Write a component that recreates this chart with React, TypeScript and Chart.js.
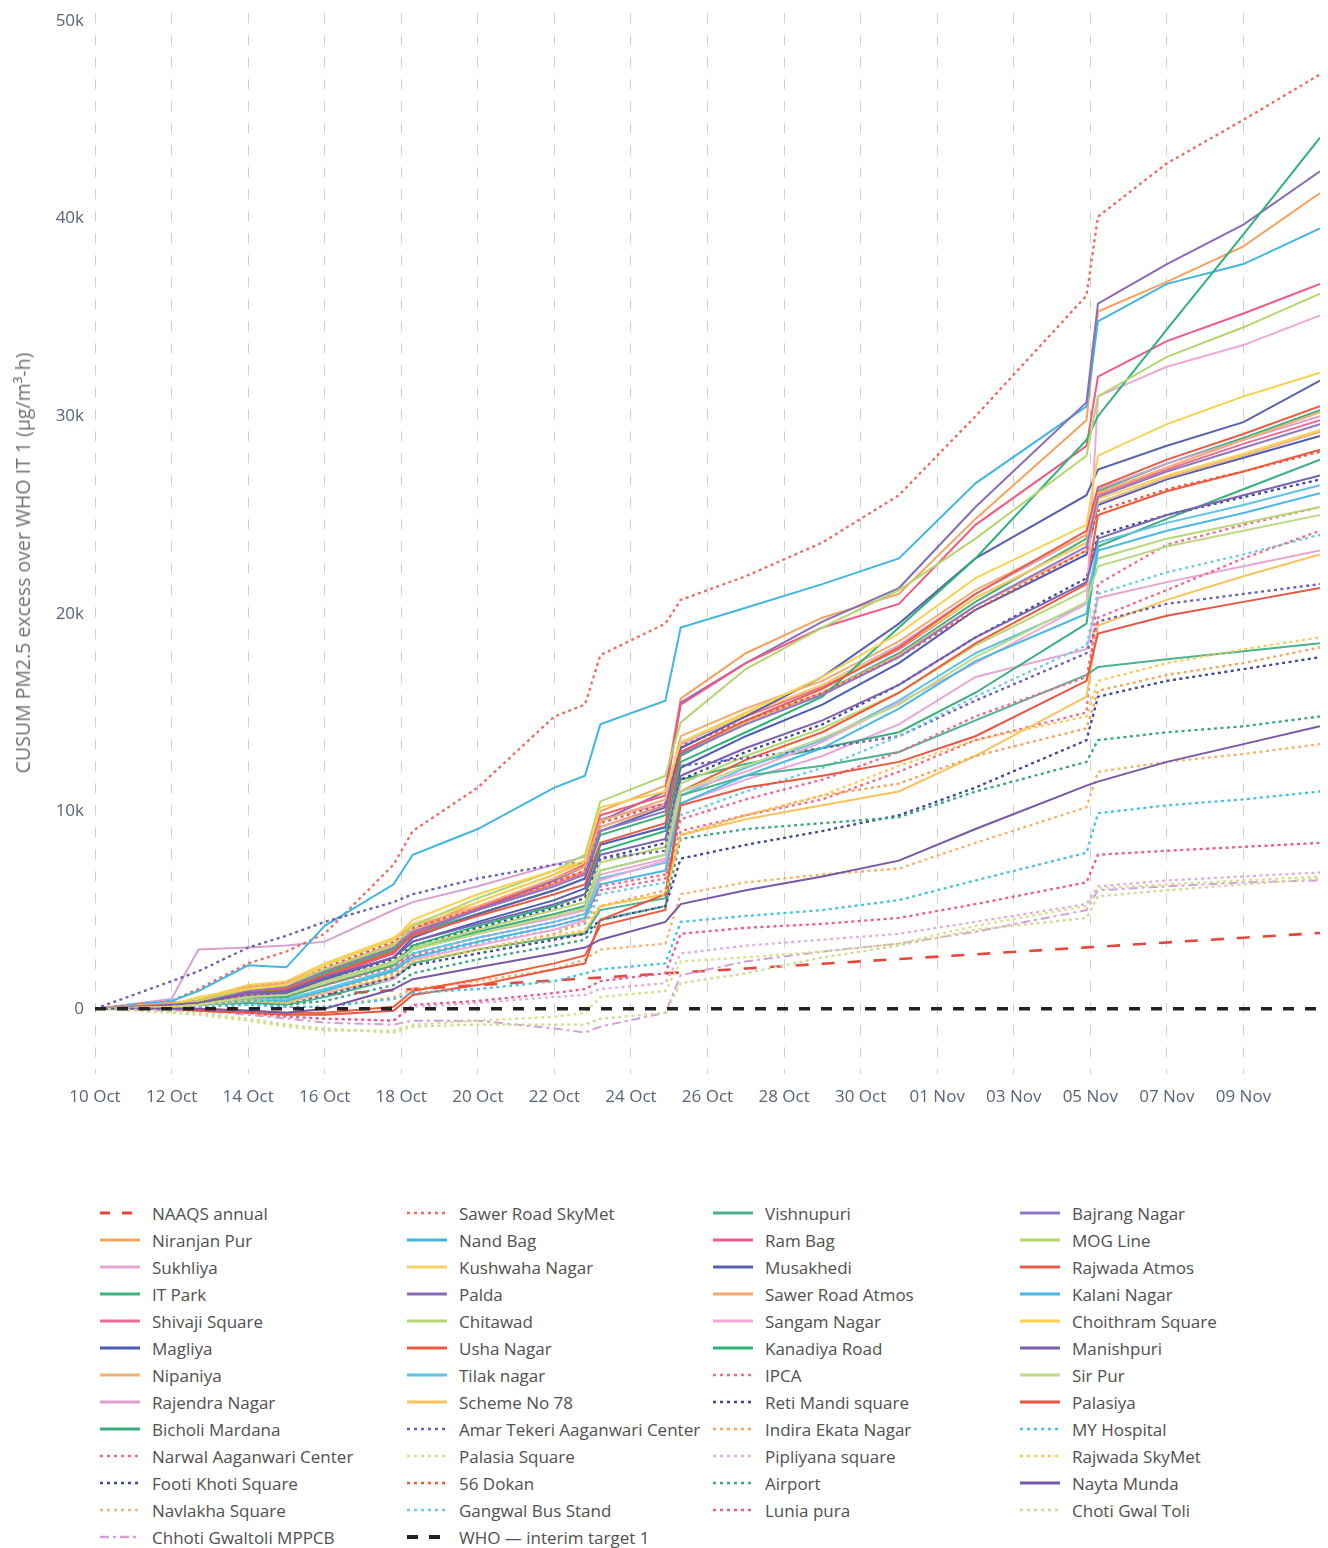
import React, { useEffect, useRef } from "react";
import { Chart, registerables } from "chart.js";

Chart.register(...registerables);

// ---- time axis (days since 10 Oct 00:00) and tick labels ----
const DAYS = [0, 2, 2.7, 4, 5, 6, 7.8, 8.3, 10, 12, 12.8, 13.2, 14.9, 15.3, 17, 19, 21, 23, 25.9, 26.2, 28, 30, 32];
const X_TICK_LABELS = ["10 Oct", "12 Oct", "14 Oct", "16 Oct", "18 Oct", "20 Oct", "22 Oct", "24 Oct", "26 Oct", "28 Oct", "30 Oct", "01 Nov", "03 Nov", "05 Nov", "07 Nov", "09 Nov"];
const Y_TICK_VALUES = [0, 10, 20, 30, 40, 50]; // thousands
const Y_TITLE = "CUSUM PM2.5 excess over WHO IT 1 (µg/m³-h)";

// ---- series values (thousands of µg/m³·h), one value per DAYS entry ----
const NAAQS_ANNUAL = [0, 0.24, 0.32, 0.48, 0.6, 0.72, 0.94, 1.0, 1.2, 1.44, 1.54, 1.58, 1.79, 1.84, 2.04, 2.28, 2.52, 2.76, 3.11, 3.14, 3.36, 3.6, 3.84];
const NIRANJAN_PUR = [0, 0.2, 0.3, 0.9, 1.0, 1.8, 3.0, 4.0, 5.4, 6.8, 7.5, 10.0, 11.3, 15.7, 18.0, 19.8, 21.0, 24.8, 29.8, 35.3, 36.8, 38.6, 41.3];
const SUKHLIYA = [0, 0.2, 0.3, 0.7, 0.8, 1.4, 2.3, 3.0, 3.8, 4.6, 5.0, 6.8, 7.6, 10.4, 11.6, 12.8, 14.4, 16.8, 18.2, 20.8, 21.6, 22.4, 23.2];
const IT_PARK = [0, 0.2, 0.3, 0.9, 1.1, 1.8, 3.0, 3.8, 4.8, 6.0, 6.6, 8.8, 9.8, 12.8, 14.5, 16.0, 18.0, 20.6, 23.8, 26.2, 27.6, 28.9, 30.3];
const SHIVAJI_SQUARE = [0, 0.3, 0.4, 1.0, 1.2, 2.0, 3.2, 4.0, 5.0, 6.3, 6.9, 9.2, 10.3, 13.2, 14.8, 16.3, 18.2, 20.8, 23.6, 26.0, 27.3, 28.6, 29.8];
const MAGLIYA = [0, 0.1, 0.2, 0.7, 0.8, 1.5, 2.6, 3.4, 4.4, 5.5, 6.1, 8.3, 9.2, 12.2, 13.8, 15.4, 17.5, 20.2, 23.0, 25.5, 26.8, 27.9, 29.0];
const NIPANIYA = [0, 0.2, 0.4, 1.0, 1.2, 2.0, 3.3, 4.0, 5.1, 6.4, 7.0, 9.2, 10.2, 13.0, 14.5, 16.0, 17.9, 20.4, 23.2, 25.6, 26.9, 28.0, 29.2];
const RAJENDRA_NAGAR = [0, 0.5, 3.0, 3.1, 3.2, 3.4, 5.0, 5.4, 6.2, 7.3, 7.7, 9.6, 10.4, 13.4, 14.9, 16.4, 18.4, 21.0, 24.0, 26.3, 27.6, 28.8, 30.0];
const BICHOLI_MARDANA = [0, 0.1, 0.2, 0.6, 0.6, 1.2, 2.2, 3.0, 3.9, 4.8, 5.2, 7.0, 7.8, 11.6, 12.4, 13.2, 14.0, 16.0, 19.5, 23.4, 24.8, 26.3, 27.8];
const NARWAL_AAGANWARI = [0, 0.3, 0.4, 0.9, 0.8, 1.3, 2.2, 2.8, 3.6, 4.4, 4.8, 6.2, 6.8, 9.0, 9.8, 10.6, 12.0, 13.6, 15.0, 21.5, 23.5, 24.5, 25.4];
const FOOTI_KHOTI = [0, 0.2, 0.3, 0.8, 0.9, 1.5, 2.5, 3.2, 4.1, 5.1, 5.6, 7.6, 8.4, 11.6, 13.0, 14.4, 16.4, 18.8, 21.8, 24.0, 25.0, 25.9, 26.8];
const NAVLAKHA = [0, 0.1, 0.1, 0.2, 0.1, 0.1, 0.6, 1.0, 1.4, 2.0, 2.5, 3.0, 3.3, 5.8, 6.4, 6.8, 7.1, 8.4, 10.2, 12.0, 12.5, 12.9, 13.4];
const CHHOTI_GWALTOLI_MPPCB = [0, -0.1, -0.1, -0.3, -0.5, -0.7, -0.8, -0.6, -0.6, -1.0, -1.2, -0.9, -0.2, 1.7, 2.4, 2.9, 3.3, 3.9, 5.0, 6.0, 6.2, 6.4, 6.5];
const SAWER_ROAD_SKYMET = [0, 0.4, 1.0, 2.3, 2.9, 3.8, 7.3, 9.0, 11.2, 14.8, 15.4, 17.9, 19.5, 20.7, 21.9, 23.6, 26.0, 30.0, 36.1, 40.1, 42.8, 45.0, 47.3];
const NAND_BAG = [0, 0.4, 0.9, 2.2, 2.1, 4.2, 6.3, 7.8, 9.1, 11.2, 11.8, 14.4, 15.6, 19.3, 20.3, 21.5, 22.8, 26.6, 30.5, 34.8, 36.7, 37.7, 39.5];
const KUSHWAHA_NAGAR = [0, 0.3, 0.5, 1.2, 1.4, 2.3, 3.6, 4.3, 5.4, 6.8, 7.4, 9.8, 10.8, 13.5, 14.9, 16.4, 18.3, 20.8, 23.6, 25.8, 27.0, 28.1, 29.3];
const PALDA = [0, 0.2, 0.4, 0.8, 0.9, 1.6, 2.8, 3.8, 5.0, 6.5, 7.2, 9.5, 11.0, 15.5, 17.5, 19.6, 21.3, 25.4, 30.7, 35.7, 37.7, 39.7, 42.4];
const CHITAWAD = [0, 0.2, 0.3, 0.7, 0.8, 1.4, 2.4, 3.1, 4.0, 5.0, 5.4, 7.4, 8.2, 11.4, 12.8, 14.2, 16.0, 18.4, 21.2, 22.8, 23.8, 24.6, 25.4];
const USHA_NAGAR = [0, 0, 0, -0.1, -0.2, -0.2, 0.1, 0.9, 1.5, 2.3, 2.7, 4.2, 5.0, 11.0, 12.6, 14.0, 16.0, 18.5, 21.5, 25.0, 26.2, 27.2, 28.3];
const TILAK_NAGAR = [0, 0.1, 0.2, 0.5, 0.5, 1.0, 2.0, 2.8, 3.6, 4.4, 4.8, 6.6, 7.4, 10.8, 12.2, 13.6, 15.6, 18.0, 20.5, 23.6, 24.6, 25.5, 26.5];
const SCHEME_NO_78 = [0, 0.1, 0.2, 0.4, 0.3, 0.8, 1.6, 2.3, 3.0, 3.6, 3.9, 5.2, 5.8, 8.8, 9.6, 10.3, 11.0, 12.8, 15.8, 19.4, 20.7, 21.9, 23.0];
const AMAR_TEKERI = [0, 1.4, 1.9, 3.1, 3.7, 4.4, 5.4, 5.8, 6.6, 7.3, 7.4, 7.6, 8.0, 12.3, 12.7, 13.2, 13.8, 15.6, 18.0, 19.6, 20.5, 21.0, 21.5];
const PALASIA_SQUARE = [0, -0.2, -0.3, -0.6, -0.9, -1.1, -1.1, -0.8, -0.6, -0.4, -0.2, 0.6, 0.9, 2.4, 2.6, 2.9, 3.3, 4.2, 5.2, 6.1, 6.3, 6.5, 6.7];
const DOKAN_56 = [0, 0.3, 0.4, 1.1, 1.3, 2.1, 3.4, 4.1, 5.1, 6.4, 7.0, 9.4, 10.4, 13.3, 14.6, 16.0, 17.8, 20.2, 23.2, 25.2, 26.3, 27.2, 28.2];
const GANGWAL_BUS_STAND = [0, 0.1, 0.2, 0.5, 0.5, 1.0, 1.9, 2.6, 3.3, 4.0, 4.3, 5.8, 6.4, 9.8, 11.0, 12.2, 13.8, 15.8, 18.4, 21.0, 22.1, 23.0, 24.0];
const WHO_IT1 = [0, 0, 0, 0, 0, 0, 0, 0, 0, 0, 0, 0, 0, 0, 0, 0, 0, 0, 0, 0, 0, 0, 0];
const VISHNUPURI = [0, 0.1, 0.2, 0.3, 0.2, 0.6, 1.5, 2.3, 3.0, 3.6, 3.8, 5.0, 5.6, 10.8, 11.8, 12.3, 13.0, 14.6, 16.9, 17.3, 17.7, 18.1, 18.5];
const RAM_BAG = [0, 0.2, 0.3, 0.8, 0.9, 1.6, 2.8, 3.8, 5.1, 6.6, 7.3, 9.8, 10.8, 15.4, 17.5, 19.3, 20.5, 24.5, 28.5, 32.0, 33.8, 35.2, 36.7];
const MUSAKHEDI = [0, 0.1, 0.3, 0.7, 0.8, 1.5, 2.6, 3.6, 4.8, 6.0, 6.6, 9.0, 10.2, 13.2, 14.8, 16.8, 19.5, 22.8, 26.0, 27.3, 28.5, 29.7, 31.8];
const SAWER_ROAD_ATMOS = [0, 0.3, 0.4, 1.1, 1.3, 2.2, 3.5, 4.2, 5.2, 6.6, 7.2, 9.5, 10.6, 13.8, 15.2, 16.6, 18.6, 21.2, 24.0, 26.1, 27.4, 28.8, 30.2];
const SANGAM_NAGAR = [0, 0.1, 0.2, 0.4, 0.4, 0.8, 1.5, 2.5, 3.2, 4.0, 4.5, 6.5, 7.5, 11.0, 12.0, 13.5, 15.5, 17.5, 20.5, 31.0, 32.5, 33.6, 35.1];
const KANADIYA_ROAD = [0, 0.1, 0.2, 0.6, 0.7, 1.2, 2.2, 3.2, 4.2, 5.2, 5.8, 8.0, 9.0, 12.5, 14.0, 15.8, 19.3, 22.8, 28.8, 30.0, 34.4, 39.2, 44.1];
const IPCA = [0, 0.2, 0.3, 0.7, 0.7, 1.2, 2.1, 2.7, 3.4, 4.2, 4.6, 6.0, 6.6, 9.6, 10.6, 11.6, 13.0, 14.8, 16.8, 19.8, 21.2, 22.8, 24.2];
const RETI_MANDI = [0, 0.1, 0.2, 0.4, 0.3, 0.7, 1.6, 2.2, 2.8, 3.5, 3.8, 4.5, 5.2, 7.6, 8.3, 9.0, 9.8, 11.2, 13.6, 15.8, 16.6, 17.2, 17.8];
const INDIRA_EKATA = [0, 0.1, 0.3, 0.5, 0.4, 0.8, 1.8, 2.4, 3.0, 3.8, 4.4, 5.2, 6.0, 8.8, 9.8, 10.8, 11.4, 12.8, 14.2, 16.1, 16.9, 17.5, 18.3];
const PIPLIYANA = [0, 0, -0.1, -0.2, -0.4, -0.5, -0.6, 0.1, 0.3, 0.6, 0.7, 1.0, 1.3, 2.8, 3.2, 3.5, 3.8, 4.4, 5.3, 6.2, 6.5, 6.7, 6.9];
const AIRPORT = [0, 0.1, 0.2, 0.3, 0.2, 0.4, 1.2, 1.8, 2.5, 3.2, 3.5, 4.5, 5.2, 8.6, 9.1, 9.4, 9.7, 11.0, 12.5, 13.6, 14.0, 14.3, 14.8];
const LUNIA_PURA = [0, 0, -0.1, -0.2, -0.4, -0.5, -0.6, 0.2, 0.4, 0.8, 1.0, 1.4, 1.8, 3.8, 4.1, 4.3, 4.6, 5.3, 6.4, 7.8, 8.0, 8.2, 8.4];
const BAJRANG_NAGAR = [0, 0.2, 0.3, 0.9, 1.1, 1.9, 3.1, 3.9, 5.0, 6.2, 6.8, 9.0, 10.0, 12.9, 14.4, 15.9, 17.8, 20.4, 23.4, 25.9, 27.2, 28.4, 29.6];
const MOG_LINE = [0, 0.2, 0.4, 1.0, 1.2, 2.0, 3.2, 4.2, 5.6, 7.0, 7.8, 10.5, 11.8, 14.5, 17.2, 19.3, 21.2, 23.8, 28.0, 31.0, 33.0, 34.5, 36.2];
const RAJWADA_ATMOS = [0, 0.2, 0.3, 0.8, 1.0, 1.7, 2.9, 3.7, 4.7, 5.8, 6.3, 8.4, 9.4, 13.0, 14.6, 16.2, 18.3, 21.0, 24.2, 26.4, 27.8, 29.1, 30.5];
const KALANI_NAGAR = [0, 0.1, 0.2, 0.4, 0.4, 0.9, 1.9, 2.6, 3.4, 4.2, 4.6, 6.3, 7.0, 10.4, 11.8, 13.2, 15.2, 17.6, 20.0, 23.2, 24.2, 25.1, 26.1];
const CHOITHRAM_SQUARE = [0, 0.2, 0.6, 1.0, 1.2, 2.2, 3.5, 4.5, 5.8, 7.0, 7.5, 10.2, 11.0, 13.5, 15.0, 16.8, 19.0, 21.8, 24.5, 28.0, 29.6, 31.0, 32.2];
const MANISHPURI = [0, 0.2, 0.3, 0.8, 0.9, 1.6, 2.6, 3.4, 4.3, 5.3, 5.8, 7.8, 8.6, 11.8, 13.2, 14.6, 16.4, 18.8, 21.6, 23.8, 25.0, 26.0, 27.0];
const SIR_PUR = [0, 0.1, 0.2, 0.6, 0.7, 1.3, 2.3, 3.0, 3.8, 4.7, 5.1, 7.0, 7.8, 11.0, 12.3, 13.7, 15.4, 17.8, 20.6, 22.4, 23.4, 24.2, 25.0];
const PALASIYA = [0, 0, -0.1, -0.2, -0.3, -0.3, -0.1, 0.7, 1.2, 2.0, 2.3, 4.5, 5.8, 10.3, 11.2, 11.8, 12.5, 13.8, 16.6, 19.0, 19.9, 20.6, 21.3];
const MY_HOSPITAL = [0, 0, 0.1, 0.2, 0.1, 0.1, 0.5, 0.8, 1.0, 1.4, 1.8, 2.0, 2.3, 4.4, 4.7, 5.0, 5.5, 6.5, 7.9, 9.9, 10.3, 10.6, 11.0];
const RAJWADA_SKYMET = [0, 0.1, 0.2, 0.4, 0.3, 0.8, 1.7, 2.4, 3.0, 3.7, 4.0, 5.2, 5.8, 8.8, 9.8, 10.8, 12.3, 13.6, 14.8, 16.6, 17.5, 18.2, 18.8];
const NAYTA_MUNDA = [0, 0, 0, -0.1, -0.2, 0, 1.0, 1.5, 2.1, 2.8, 3.1, 3.5, 4.4, 5.3, 6.0, 6.7, 7.5, 9.1, 11.3, 11.5, 12.5, 13.4, 14.3];
const CHOTI_GWAL_TOLI = [0, -0.1, -0.2, -0.5, -0.8, -1.0, -1.2, -0.9, -0.8, -0.8, -0.8, -0.5, -0.2, 1.3, 1.8, 2.6, 3.2, 4.0, 4.6, 5.7, 6.0, 6.3, 6.6];

type DashKind = "solid" | "dot" | "dash" | "dashdot" | "who";
interface SeriesDef { name: string; data: number[]; color: string; dash: DashKind; }

// legend order, column by column
const SERIES: SeriesDef[] = [
  { name: "NAAQS annual", data: NAAQS_ANNUAL, color: "#e8453c", dash: "dash" },
  { name: "Niranjan Pur", data: NIRANJAN_PUR, color: "#f5a25d", dash: "solid" },
  { name: "Sukhliya", data: SUKHLIYA, color: "#e7a6d6", dash: "solid" },
  { name: "IT Park", data: IT_PARK, color: "#3db37a", dash: "solid" },
  { name: "Shivaji Square", data: SHIVAJI_SQUARE, color: "#ec6c95", dash: "solid" },
  { name: "Magliya", data: MAGLIYA, color: "#4a5cb5", dash: "solid" },
  { name: "Nipaniya", data: NIPANIYA, color: "#f0b27a", dash: "solid" },
  { name: "Rajendra Nagar", data: RAJENDRA_NAGAR, color: "#d9a0cf", dash: "solid" },
  { name: "Bicholi Mardana", data: BICHOLI_MARDANA, color: "#3aae7e", dash: "solid" },
  { name: "Narwal Aaganwari Center", data: NARWAL_AAGANWARI, color: "#f26b8a", dash: "dot" },
  { name: "Footi Khoti Square", data: FOOTI_KHOTI, color: "#3e4a8f", dash: "dot" },
  { name: "Navlakha Square", data: NAVLAKHA, color: "#f7b26b", dash: "dot" },
  { name: "Chhoti Gwaltoli MPPCB", data: CHHOTI_GWALTOLI_MPPCB, color: "#d59fd6", dash: "dashdot" },
  { name: "Sawer Road SkyMet", data: SAWER_ROAD_SKYMET, color: "#ec6b5e", dash: "dot" },
  { name: "Nand Bag", data: NAND_BAG, color: "#40b6e0", dash: "solid" },
  { name: "Kushwaha Nagar", data: KUSHWAHA_NAGAR, color: "#f6d25e", dash: "solid" },
  { name: "Palda", data: PALDA, color: "#8b6ab8", dash: "solid" },
  { name: "Chitawad", data: CHITAWAD, color: "#b5d774", dash: "solid" },
  { name: "Usha Nagar", data: USHA_NAGAR, color: "#f25a38", dash: "solid" },
  { name: "Tilak nagar", data: TILAK_NAGAR, color: "#5ec3e4", dash: "solid" },
  { name: "Scheme No 78", data: SCHEME_NO_78, color: "#f7c35a", dash: "solid" },
  { name: "Amar Tekeri Aaganwari Center", data: AMAR_TEKERI, color: "#6a5db5", dash: "dot" },
  { name: "Palasia Square", data: PALASIA_SQUARE, color: "#d4e38a", dash: "dot" },
  { name: "56 Dokan", data: DOKAN_56, color: "#f2553f", dash: "dot" },
  { name: "Gangwal Bus Stand", data: GANGWAL_BUS_STAND, color: "#6ccbe6", dash: "dot" },
  { name: "WHO — interim target 1", data: WHO_IT1, color: "#222222", dash: "who" },
  { name: "Vishnupuri", data: VISHNUPURI, color: "#4cb38f", dash: "solid" },
  { name: "Ram Bag", data: RAM_BAG, color: "#f05a85", dash: "solid" },
  { name: "Musakhedi", data: MUSAKHEDI, color: "#5a62b0", dash: "solid" },
  { name: "Sawer Road Atmos", data: SAWER_ROAD_ATMOS, color: "#f3aa6f", dash: "solid" },
  { name: "Sangam Nagar", data: SANGAM_NAGAR, color: "#f2a8d6", dash: "solid" },
  { name: "Kanadiya Road", data: KANADIYA_ROAD, color: "#2db37a", dash: "solid" },
  { name: "IPCA", data: IPCA, color: "#f2698c", dash: "dot" },
  { name: "Reti Mandi square", data: RETI_MANDI, color: "#3f4793", dash: "dot" },
  { name: "Indira Ekata Nagar", data: INDIRA_EKATA, color: "#f8a35a", dash: "dot" },
  { name: "Pipliyana square", data: PIPLIYANA, color: "#dcb0dc", dash: "dot" },
  { name: "Airport", data: AIRPORT, color: "#38a383", dash: "dot" },
  { name: "Lunia pura", data: LUNIA_PURA, color: "#f0578e", dash: "dot" },
  { name: "Bajrang Nagar", data: BAJRANG_NAGAR, color: "#9077c4", dash: "solid" },
  { name: "MOG Line", data: MOG_LINE, color: "#b3d66e", dash: "solid" },
  { name: "Rajwada Atmos", data: RAJWADA_ATMOS, color: "#ea5c47", dash: "solid" },
  { name: "Kalani Nagar", data: KALANI_NAGAR, color: "#47b9e2", dash: "solid" },
  { name: "Choithram Square", data: CHOITHRAM_SQUARE, color: "#f7d24f", dash: "solid" },
  { name: "Manishpuri", data: MANISHPURI, color: "#7d5fb3", dash: "solid" },
  { name: "Sir Pur", data: SIR_PUR, color: "#bcd985", dash: "solid" },
  { name: "Palasiya", data: PALASIYA, color: "#e9553f", dash: "solid" },
  { name: "MY Hospital", data: MY_HOSPITAL, color: "#45c1e2", dash: "dot" },
  { name: "Rajwada SkyMet", data: RAJWADA_SKYMET, color: "#f8cc52", dash: "dot" },
  { name: "Nayta Munda", data: NAYTA_MUNDA, color: "#7657a8", dash: "solid" },
  { name: "Choti Gwal Toli", data: CHOTI_GWAL_TOLI, color: "#d2d994", dash: "dot" },
];

const LEGEND_COLUMN_SIZES = [13, 13, 12, 12];

const FONT = "'Open Sans', 'Noto Sans', sans-serif";
const TICK_COLOR = "#5a6478";

const CANVAS_DASH: Record<DashKind, { dash: number[]; width: number }> = {
  solid: { dash: [], width: 2 },
  dot: { dash: [3, 3.5], width: 2.3 },
  dash: { dash: [13, 13], width: 2.6 },
  dashdot: { dash: [9, 4, 3, 4], width: 2 },
  who: { dash: [11, 11], width: 3.6 },
};
const LEGEND_DASH: Record<DashKind, { dash: string; width: number }> = {
  solid: { dash: "", width: 3 },
  dot: { dash: "3,4", width: 2.5 },
  dash: { dash: "10,12", width: 3 },
  dashdot: { dash: "9,4,3,4", width: 2.5 },
  who: { dash: "11,11", width: 4 },
};

function LegendItem({ s, left, top }: { s: SeriesDef; left: number; top: number }) {
  const d = LEGEND_DASH[s.dash];
  return (
    <div style={{ position: "absolute", left, top, height: 27, display: "flex", alignItems: "center", whiteSpace: "nowrap" }}>
      <svg width={40} height={12} style={{ display: "block" }}>
        <line x1={0} y1={6} x2={40} y2={6} stroke={s.color} strokeWidth={d.width} strokeDasharray={d.dash || undefined} />
      </svg>
      <span style={{ marginLeft: 12, fontFamily: FONT, fontSize: 17, color: "#505050", lineHeight: "27px" }}>{s.name}</span>
    </div>
  );
}

export default function App() {
  const canvasRef = useRef<HTMLCanvasElement | null>(null);

  useEffect(() => {
    if (!canvasRef.current) return;
    const n = SERIES.length;
    const datasets = SERIES.map((s, idx) => {
      const st = CANVAS_DASH[s.dash];
      return {
        label: s.name,
        data: s.data.map((v, i) => ({ x: DAYS[i], y: v })),
        borderColor: s.color,
        backgroundColor: s.color,
        borderWidth: st.width,
        borderDash: st.dash,
        pointRadius: 0,
        tension: 0,
        fill: false,
        order: s.dash === "who" ? -1 : n - idx,
      };
    });

    const chart = new Chart(canvasRef.current, {
      type: "line",
      data: { datasets },
      options: {
        animation: false,
        responsive: false,
        maintainAspectRatio: false,
        layout: { padding: { top: 9, right: 8, left: 0, bottom: 0 } },
        plugins: { legend: { display: false }, tooltip: { enabled: false } },
        elements: { point: { radius: 0 }, line: { tension: 0 } },
        scales: {
          x: {
            type: "linear",
            min: 0,
            max: 32,
            grid: { color: "#cfcfcf", lineWidth: 1, drawTicks: false },
            border: { display: false, dash: [10, 12] },
            ticks: {
              color: TICK_COLOR,
              font: { family: FONT, size: 17 },
              padding: 13,
              maxRotation: 0,
              autoSkip: false,
              callback: (v: any) => X_TICK_LABELS[Math.round(Number(v) / 2)] ?? "",
            },
            afterBuildTicks: (scale: any) => {
              scale.ticks = X_TICK_LABELS.map((_, i) => ({ value: i * 2 }));
            },
            afterFit: (scale: any) => {
              scale.height = 46;
            },
          },
          y: {
            type: "linear",
            min: -3.3,
            max: 50.4,
            grid: { display: false },
            border: { display: false },
            ticks: {
              color: TICK_COLOR,
              font: { family: FONT, size: 17 },
              padding: 3,
              callback: (v: any) => (Number(v) === 0 ? "0" : `${v}k`),
            },
            afterBuildTicks: (scale: any) => {
              scale.ticks = Y_TICK_VALUES.map((v) => ({ value: v }));
            },
            afterFit: (scale: any) => {
              scale.width = 95;
            },
            title: { display: false },
          },
        },
      } as any,
    });
    return () => chart.destroy();
  }, []);

  const legendCols = [100, 407, 713, 1020];
  const items: React.ReactNode[] = [];
  let k = 0;
  LEGEND_COLUMN_SIZES.forEach((size, c) => {
    for (let r = 0; r < size; r++) {
      const s = SERIES[k++];
      items.push(<LegendItem key={s.name} s={s} left={legendCols[c]} top={1213 + 27 * r - 13.5} />);
    }
  });

  return (
    <div style={{ position: "absolute", left: 0, top: 0, width: 1328, height: 1548, background: "#ffffff", overflow: "hidden" }}>
      <canvas ref={canvasRef} width={1328} height={1120} style={{ position: "absolute", left: 0, top: 0, width: 1328, height: 1120 }} />
      <div
        style={{
          position: "absolute",
          left: 23,
          top: 563,
          transform: "translate(-50%, -50%) rotate(-90deg)",
          whiteSpace: "nowrap",
          fontFamily: FONT,
          fontSize: 19.5,
          color: "#707070",
          lineHeight: "22px",
        }}
      >
        {Y_TITLE}
      </div>
      {items}
    </div>
  );
}
